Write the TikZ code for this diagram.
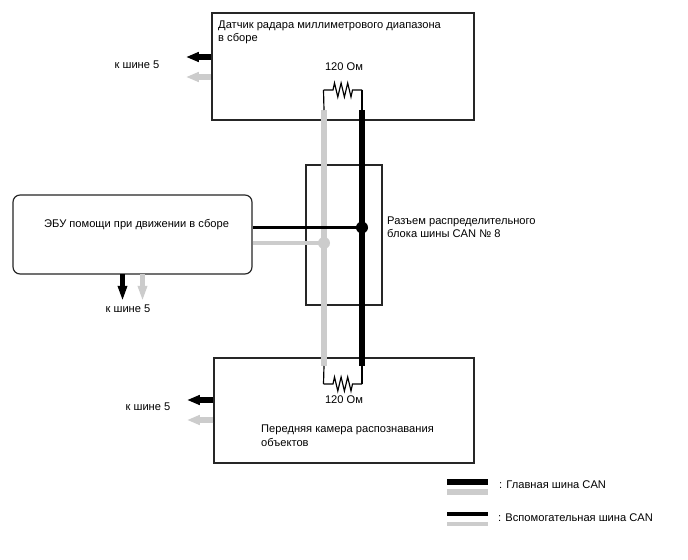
\documentclass[tikz,border=0pt]{standalone}
\usepackage{fontspec}
\setmainfont{Liberation Sans}
\usetikzlibrary{arrows.meta}
\usetikzlibrary{positioning}
\definecolor{busgray}{gray}{0.8}
\tikzset{
  unitbox/.style={draw=black!85,line width=1pt,minimum width=#1,inner sep=0pt},
  label/.style={font=\fontsize{9.5}{11.6}\selectfont,align=left,inner sep=0pt},
  mainbus/.style={line width=5.2pt},
  subbus/.style={line width=2.8pt},
  wire/.style={line width=1pt},
  outarrow/.style={line width=4.6pt,-{Triangle[length=11pt,width=8pt]}},
  outarrowthin/.style={line width=4.6pt,-{Triangle[length=13pt,width=7.5pt]}}
}
\newcommand{\zigzag}[2]{% resistor between two wire ends
  \draw[wire] (#1) -- ++(9.5,0) -- ++(1.5,-7) -- ++(3.3,14) -- ++(3.3,-14) -- ++(3.3,14) -- ++(3.3,-14) -- ++(3.3,14) -- ++(1.5,-7) -- (#2);
}
\begin{document}
\begin{tikzpicture}[x=0.03cm,y=-0.03cm]
\useasboundingbox (0,0) rectangle (688,560);
\fill[white] (0,0) rectangle (688,560);

% boxes
\node[unitbox=262*0.03cm,minimum height=107*0.03cm] (radar) at (343,66.5) {};
\node[unitbox=76*0.03cm,minimum height=140*0.03cm] (block) at (344,235) {};
\node[unitbox=239*0.03cm,minimum height=79*0.03cm,rounded corners=6pt] (ecu) at (132.5,234.5) {};
\node[unitbox=260*0.03cm,minimum height=105*0.03cm] (camera) at (344,410.5) {};

% labels
\node[label,anchor=north west] (radartext) at (218,20.5) {Датчик радара миллиметрового диапазона\\в сборе};
\node[label,anchor=west] (ecutext) at (44,224.5) {ЭБУ помощи при движении в сборе};
\node[label,anchor=north west] (blocktext) at (387,216.5) {Разъем распределительного\\блока шины CAN № 8};
\node[label,anchor=north west] (cameratext) at (261,425) {Передняя камера распознавания\\объектов};
\node[label] (rtop) at (344,67) {120 Ом};
\node[label] (rbot) at (344,400) {120 Ом};
\node[label] (bus5a) at (137,65) {к шине 5};
\node[label] (bus5b) at (128,309) {к шине 5};
\node[label] (bus5c) at (148,407) {к шине 5};

% bus
\coordinate (gtop) at (324,110);
\coordinate (gbot) at (324,366);
\coordinate (ktop) at (362,110);
\coordinate (kbot) at (362,366);
\coordinate (gjoin) at (324,243);
\coordinate (kjoin) at (362,227.5);
\coordinate (r1a) at (323.5,90);
\coordinate (r1b) at (362,90);
\coordinate (r2a) at (323.5,384);
\coordinate (r2b) at (362,384);
\draw[mainbus,busgray] (gtop) -- (gbot);
\draw[mainbus,black] (ktop) -- (kbot);
\draw[wire] (gtop) -- (r1a);
\draw[wire] (ktop) -- (r1b);
\draw[wire] (gbot) -- (r2a);
\draw[wire] (kbot) -- (r2b);
\zigzag{r1a}{r1b}
\zigzag{r2a}{r2b}
\draw[subbus,black] (ecu.east |- kjoin) -- (kjoin);
\draw[subbus,busgray] (ecu.east |- gjoin) -- (gjoin);
\fill[black] (kjoin) circle (6);
\fill[busgray] (gjoin) circle (6);

% arrows to bus 5
\draw[outarrow,black] (radar.west |- 0,57) -- (186,57);
\draw[outarrow,busgray] (radar.west |- 0,77) -- (186,77);
\draw[outarrow,black] (camera.west |- 0,400) -- (187,400);
\draw[outarrow,busgray] (camera.west |- 0,420) -- (187,420);
\draw[outarrowthin,black] (122.5,274) -- (122.5,301);
\draw[outarrowthin,busgray] (142.5,274) -- (142.5,301);

% legend
\coordinate (l1) at (447,482);
\coordinate (l2) at (447,492);
\coordinate (l3) at (447,514);
\coordinate (l4) at (447,524);
\draw[mainbus,black] (l1) -- ++(41,0);
\draw[mainbus,busgray] (l2) -- ++(41,0);
\draw[subbus,black] (l3) -- ++(41,0);
\draw[subbus,busgray] (l4) -- ++(41,0);
\node[label,anchor=west] (legmain) at (499,485) {: Главная шина CAN};
\node[label,anchor=west] (legsub) at (498,518) {: Вспомогательная шина CAN};
\end{tikzpicture}
\end{document}
